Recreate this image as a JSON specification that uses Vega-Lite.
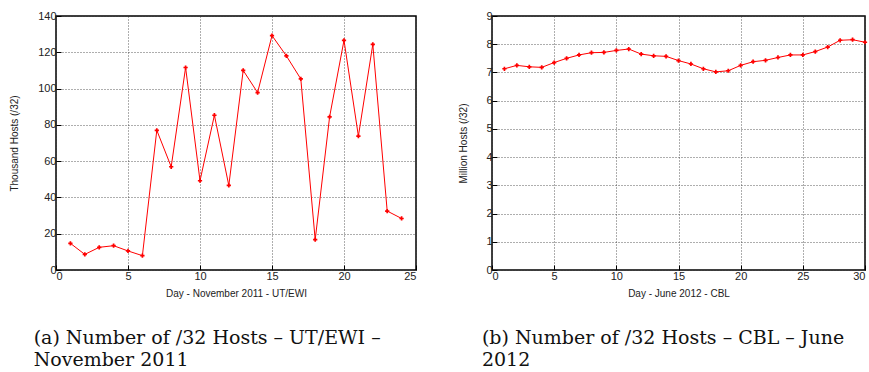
{
  "$schema": "https://vega.github.io/schema/vega-lite/v6.json",
  "background": "white",
  "padding": {"left": 8, "top": 9, "right": 0, "bottom": 0},
  "spacing": 40,
  "config": {
    "view": {"stroke": "black", "strokeWidth": 1.5},
    "axis": {
      "labelFont": "Liberation Sans", "labelFontSize": 11, "labelColor": "#222",
      "titleFont": "Liberation Sans", "titleFontSize": 10, "titleFontWeight": "normal", "titleColor": "#222",
      "gridColor": "#333", "gridDash": [1, 2], "gridOpacity": 1, "gridWidth": 0.8,
      "domain": false, "tickColor": "black", "tickSize": -5, "labelPadding": 5
    },
    "axisX": {"titlePadding": 7},
    "title": {"font": "DejaVu Serif", "fontSize": 19, "fontWeight": "normal", "color": "#111", "orient": "bottom", "anchor": "start", "frame": "bounds", "lineHeight": 22, "offset": 31}
  },
  "hconcat": [
    {
      "width": 360, "height": 254,
      "title": {"text": ["(a) Number of /32 Hosts – UT/EWI –", "November 2011"], "dx": 24},
      "data": {"values": [
        {"day": 1, "v": 14.7}, {"day": 2, "v": 8.6}, {"day": 3, "v": 12.5}, {"day": 4, "v": 13.4},
        {"day": 5, "v": 10.5}, {"day": 6, "v": 7.9}, {"day": 7, "v": 77}, {"day": 8, "v": 56.9},
        {"day": 9, "v": 111.6}, {"day": 10, "v": 49.2}, {"day": 11, "v": 85.3}, {"day": 12, "v": 46.6},
        {"day": 13, "v": 110}, {"day": 14, "v": 97.8}, {"day": 15, "v": 129.2}, {"day": 16, "v": 118},
        {"day": 17, "v": 105.3}, {"day": 18, "v": 16.7}, {"day": 19, "v": 84.4}, {"day": 20, "v": 126.6},
        {"day": 21, "v": 73.8}, {"day": 22, "v": 124.4}, {"day": 23, "v": 32.5}, {"day": 24, "v": 28.4}
      ]},
      "encoding": {
        "x": {"field": "day", "type": "quantitative", "scale": {"domain": [0, 25], "nice": false}, "axis": {"values": [0, 5, 10, 15, 20, 25], "title": "Day - November 2011 - UT/EWI"}},
        "y": {"field": "v", "type": "quantitative", "scale": {"domain": [0, 140], "nice": false}, "axis": {"values": [0, 20, 40, 60, 80, 100, 120, 140], "title": "Thousand Hosts (/32)", "titlePadding": 18}}
      },
      "layer": [
        {"mark": {"type": "line", "color": "#ff0000", "strokeWidth": 1}},
        {"mark": {"type": "point", "shape": "cross", "color": "#ff0000", "filled": true, "size": 18, "opacity": 1}}
      ]
    },
    {
      "width": 373, "height": 254,
      "title": {"text": ["(b) Number of /32 Hosts – CBL – June", "2012"], "dx": 23},
      "data": {"values": [
        {"day": 1, "v": 7.13}, {"day": 2, "v": 7.25}, {"day": 3, "v": 7.2}, {"day": 4, "v": 7.18},
        {"day": 5, "v": 7.35}, {"day": 6, "v": 7.5}, {"day": 7, "v": 7.62}, {"day": 8, "v": 7.7},
        {"day": 9, "v": 7.71}, {"day": 10, "v": 7.78}, {"day": 11, "v": 7.83}, {"day": 12, "v": 7.65},
        {"day": 13, "v": 7.59}, {"day": 14, "v": 7.57}, {"day": 15, "v": 7.42}, {"day": 16, "v": 7.3},
        {"day": 17, "v": 7.13}, {"day": 18, "v": 7.02}, {"day": 19, "v": 7.06}, {"day": 20, "v": 7.25},
        {"day": 21, "v": 7.38}, {"day": 22, "v": 7.43}, {"day": 23, "v": 7.53}, {"day": 24, "v": 7.62},
        {"day": 25, "v": 7.62}, {"day": 26, "v": 7.74}, {"day": 27, "v": 7.9}, {"day": 28, "v": 8.14},
        {"day": 29, "v": 8.16}, {"day": 30, "v": 8.07}
      ]},
      "encoding": {
        "x": {"field": "day", "type": "quantitative", "scale": {"domain": [0, 30], "nice": false}, "axis": {"values": [0, 5, 10, 15, 20, 25, 30], "title": "Day - June 2012 - CBL"}},
        "y": {"field": "v", "type": "quantitative", "scale": {"domain": [0, 9], "nice": false}, "axis": {"values": [0, 1, 2, 3, 4, 5, 6, 7, 8, 9], "title": "Million Hosts (/32)", "titlePadding": 17}}
      },
      "layer": [
        {"mark": {"type": "line", "color": "#ff0000", "strokeWidth": 1}},
        {"mark": {"type": "point", "shape": "cross", "color": "#ff0000", "filled": true, "size": 18, "opacity": 1}}
      ]
    }
  ]
}
